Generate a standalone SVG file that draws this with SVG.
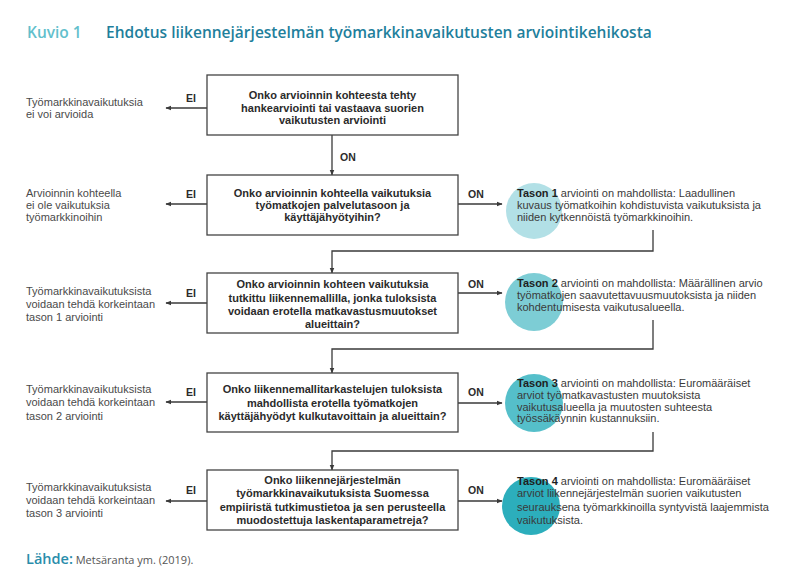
<svg xmlns="http://www.w3.org/2000/svg" width="800" height="580" viewBox="0 0 800 580">
<style>
.bg{fill:#ffffff}
.box{fill:#ffffff;stroke:#444444;stroke-width:1.3}
.q{font-family:"Liberation Sans",Arial,sans-serif;font-size:11px;font-weight:bold;fill:#2b2b2b;text-anchor:middle}
.lt{font-family:"Liberation Sans",Arial,sans-serif;font-size:11px;fill:#4a4a4a}
.rt{font-family:"Liberation Sans",Arial,sans-serif;font-size:11px;fill:#3a3a3a}
.rt .b{font-weight:bold;fill:#1e1e1e}
.lab{font-family:"Liberation Sans",Arial,sans-serif;font-size:10.5px;font-weight:bold;fill:#2b2b2b}
.ln{fill:none;stroke:#3a3a3a;stroke-width:1.3}
.title{font-family:"Open Sans","Noto Sans",sans-serif;font-size:15.5px;font-weight:600}
</style>
<defs>
<marker id="ah" viewBox="0 0 10 10" refX="9" refY="5" markerWidth="6" markerHeight="6" orient="auto" markerUnits="userSpaceOnUse">
<path d="M0,1 L10,5 L0,9 Z" fill="#3a3a3a"/>
</marker>
</defs>
<rect class="bg" x="0" y="0" width="800" height="580"/>

<g id="title">
<text class="title" x="27" y="38" fill="#62bfcc">Kuvio 1</text>
<text class="title" x="106" y="38" fill="#1f7f9c">Ehdotus liikennejärjestelmän työmarkkinavaikutusten arviointikehikosta</text>
</g>

<g id="circles">
<circle cx="534" cy="211" r="28" fill="#b2e0e6"/>
<circle cx="534" cy="302" r="29" fill="#7dcdd5"/>
<circle cx="534" cy="403" r="29" fill="#55bfca"/>
<circle cx="531" cy="506" r="29" fill="#2caebc"/>
</g>

<g id="connectors">
<line class="ln" x1="207" y1="108" x2="166" y2="108" marker-end="url(#ah)"/>
<line class="ln" x1="332" y1="135" x2="332" y2="175" marker-end="url(#ah)"/>
<line class="ln" x1="207" y1="204" x2="166" y2="204" marker-end="url(#ah)"/>
<line class="ln" x1="458" y1="204" x2="502" y2="204" marker-end="url(#ah)"/>
<polyline class="ln" points="653,230 653,251 332,251 332,273" marker-end="url(#ah)"/>
<line class="ln" x1="207" y1="303" x2="166" y2="303" marker-end="url(#ah)"/>
<line class="ln" x1="458" y1="293" x2="502" y2="293" marker-end="url(#ah)"/>
<polyline class="ln" points="653,320 653,349 332,349 332,373" marker-end="url(#ah)"/>
<line class="ln" x1="207" y1="402" x2="166" y2="402" marker-end="url(#ah)"/>
<line class="ln" x1="458" y1="403" x2="502" y2="403" marker-end="url(#ah)"/>
<polyline class="ln" points="653,432 653,451 332,451 332,470" marker-end="url(#ah)"/>
<line class="ln" x1="207" y1="501" x2="166" y2="501" marker-end="url(#ah)"/>
<line class="ln" x1="458" y1="501" x2="502" y2="501" marker-end="url(#ah)"/>
</g>

<g id="labels">
<text class="lab" x="186" y="102">EI</text>
<text class="lab" x="340" y="161">ON</text>
<text class="lab" x="186" y="198">EI</text>
<text class="lab" x="468" y="198">ON</text>
<text class="lab" x="186" y="297">EI</text>
<text class="lab" x="468" y="288">ON</text>
<text class="lab" x="186" y="396">EI</text>
<text class="lab" x="468" y="396">ON</text>
<text class="lab" x="186" y="494">EI</text>
<text class="lab" x="468" y="494">ON</text>
</g>

<g id="q1">
<rect class="box" x="207" y="75" width="251" height="60"/>
<text class="q" x="332.5" y="99">Onko arvioinnin kohteesta tehty</text>
<text class="q" x="332.5" y="112">hankearviointi tai vastaava suorien</text>
<text class="q" x="332.5" y="124">vaikutusten arviointi</text>
</g>
<g id="n1">
<text class="lt" x="26" y="106">Työmarkkinavaikutuksia</text>
<text class="lt" x="26" y="118">ei voi arvioida</text>
</g>

<g id="q2">
<rect class="box" x="207" y="175" width="251" height="60"/>
<text class="q" x="332.5" y="197">Onko arvioinnin kohteella vaikutuksia</text>
<text class="q" x="332.5" y="209">työmatkojen palvelutasoon ja</text>
<text class="q" x="332.5" y="221">käyttäjähyötyihin?</text>
</g>
<g id="n2">
<text class="lt" x="26" y="197">Arvioinnin kohteella</text>
<text class="lt" x="26" y="209">ei ole vaikutuksia</text>
<text class="lt" x="26" y="221">työmarkkinoihin</text>
</g>
<g id="t1">
<text class="rt" x="517" y="197"><tspan class="b">Tason 1</tspan> arviointi on mahdollista: Laadullinen</text>
<text class="rt" x="517" y="209">kuvaus työmatkoihin kohdistuvista vaikutuksista ja</text>
<text class="rt" x="517" y="221">niiden kytkennöistä työmarkkinoihin.</text>
</g>

<g id="q3">
<rect class="box" x="207" y="273" width="251" height="60"/>
<text class="q" x="332.5" y="288">Onko arvioinnin kohteen vaikutuksia</text>
<text class="q" x="332.5" y="302">tutkittu liikennemallilla, jonka tuloksista</text>
<text class="q" x="332.5" y="315">voidaan erotella matkavastusmuutokset</text>
<text class="q" x="332.5" y="328">alueittain?</text>
</g>
<g id="n3">
<text class="lt" x="26" y="295">Työmarkkinavaikutuksista</text>
<text class="lt" x="26" y="308">voidaan tehdä korkeintaan</text>
<text class="lt" x="26" y="321">tason 1 arviointi</text>
</g>
<g id="t2">
<text class="rt" x="517" y="287"><tspan class="b">Tason 2</tspan> arviointi on mahdollista: Määrällinen arvio</text>
<text class="rt" x="517" y="299">työmatkojen saavutettavuusmuutoksista ja niiden</text>
<text class="rt" x="517" y="311">kohdentumisesta vaikutusalueella.</text>
</g>

<g id="q4">
<rect class="box" x="207" y="373" width="251" height="59"/>
<text class="q" x="332.5" y="393">Onko liikennemallitarkastelujen tuloksista</text>
<text class="q" x="332.5" y="407">mahdollista erotella työmatkojen</text>
<text class="q" x="332.5" y="420">käyttäjähyödyt kulkutavoittain ja alueittain?</text>
</g>
<g id="n4">
<text class="lt" x="26" y="393">Työmarkkinavaikutuksista</text>
<text class="lt" x="26" y="406">voidaan tehdä korkeintaan</text>
<text class="lt" x="26" y="420">tason 2 arviointi</text>
</g>
<g id="t3">
<text class="rt" x="517" y="387"><tspan class="b">Tason 3</tspan> arviointi on mahdollista: Euromääräiset</text>
<text class="rt" x="517" y="399">arviot työmatkavastusten muutoksista</text>
<text class="rt" x="517" y="411">vaikutusalueella ja muutosten suhteesta</text>
<text class="rt" x="517" y="422">työssäkäynnin kustannuksiin.</text>
</g>

<g id="q5">
<rect class="box" x="207" y="470" width="251" height="60"/>
<text class="q" x="332.5" y="484">Onko liikennejärjestelmän</text>
<text class="q" x="332.5" y="497">työmarkkinavaikutuksista Suomessa</text>
<text class="q" x="332.5" y="511">empiiristä tutkimustietoa ja sen perusteella</text>
<text class="q" x="332.5" y="524">muodostettuja laskentaparametreja?</text>
</g>
<g id="n5">
<text class="lt" x="26" y="491">Työmarkkinavaikutuksista</text>
<text class="lt" x="26" y="504">voidaan tehdä korkeintaan</text>
<text class="lt" x="26" y="517">tason 3 arviointi</text>
</g>
<g id="t4">
<text class="rt" x="517" y="485"><tspan class="b">Tason 4</tspan> arviointi on mahdollista: Euromääräiset</text>
<text class="rt" x="517" y="497">arviot liikennejärjestelmän suorien vaikutusten</text>
<text class="rt" x="517" y="511">seurauksena työmarkkinoilla syntyvistä laajemmista</text>
<text class="rt" x="517" y="524">vaikutuksista.</text>
</g>

<g id="source">
<text x="26" y="564" font-family="'Open Sans','Noto Sans',sans-serif"><tspan font-size="14.5" font-weight="600" fill="#2a8dab">Lähde:</tspan><tspan font-size="11" fill="#555555"> Metsäranta ym. (2019).</tspan></text>
</g>
</svg>
